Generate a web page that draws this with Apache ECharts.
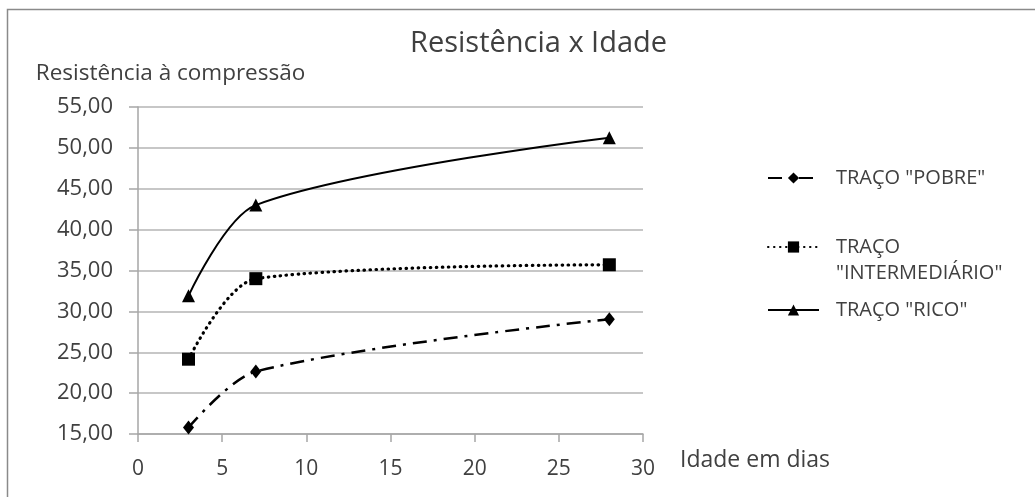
<!DOCTYPE html>
<html>
<head>
<meta charset="utf-8">
<script src="https://cdn.jsdelivr.net/npm/echarts@6/dist/echarts.min.js"></script>
<style>
html,body{margin:0;padding:0;background:#fff;}
#c{width:1035px;height:497px;}
</style>
</head>
<body>
<div id="c"></div>
<script>
const ages = [3, 7, 28];
const pobre = [15.8, 22.65, 29.05];
const intermediario = [24.15, 34.0, 35.7];
const rico = [31.9, 43.0, 51.25];
const seriesNames = ['TRAÇO "POBRE"', 'TRAÇO "INTERMEDIÁRIO"', 'TRAÇO "RICO"'];
const legendLabels = ['TRAÇO "POBRE"', ' \nTRAÇO\n"INTERMEDIÁRIO"', 'TRAÇO "RICO"'];
const titleText = 'Resistência x Idade';
const yName = 'Resistência à compressão';
const xName = 'Idade em dias';

const FONT = '"Open Sans", sans-serif';
const TXT = '#404040';

function pts(vals){ return ages.map((a,i)=>[a, vals[i]]); }

const chart = echarts.init(document.getElementById('c'));
function legendFor(i, top){
  return {
    orient: 'vertical',
    left: 762,
    top: top,
    itemWidth: 51,
    itemHeight: 14,
    selectedMode: false,
    textStyle: {fontFamily: FONT, fontSize: 20, color: TXT, padding: [0,0,0,12], lineHeight: 26},
    formatter: function(n){ return legendLabels[seriesNames.indexOf(n)]; },
    data: [seriesNames[i]]
  };
}
chart.setOption({
  backgroundColor: '#fff',
  animation: false,
  graphic: [{
    type: 'rect', silent: true, z: -10,
    shape: {x: 7.5, y: 9.5, width: 1100, height: 600},
    style: {fill: '#fff', stroke: '#8a8a8a', lineWidth: 1.5}
  }],
  title: {
    text: titleText, left: 405, top: 24,
    textStyle: {fontFamily: FONT, fontSize: 29, fontWeight: 'normal', color: TXT}
  },
  legend: [
    legendFor(0, 160),
    legendFor(1, 203),
    legendFor(2, 292)
  ],
  grid: {left: 138, right: 392, top: 107, bottom: 63, containLabel: false},
  xAxis: {
    type: 'value', min: 0, max: 30, interval: 5,
    name: xName, nameLocation: 'end', nameGap: 37, nameMoveOverlap: false,
    nameTextStyle: {fontFamily: FONT, fontSize: 23, color: TXT, verticalAlign: 'top', lineHeight: 52},
    axisLine: {show: true, lineStyle: {color: '#a6a6a6', width: 1.5}},
    axisTick: {show: true, length: 8, lineStyle: {color: '#a6a6a6', width: 1.5}},
    axisLabel: {fontFamily: FONT, fontSize: 21, color: TXT, margin: 25},
    splitLine: {show: false}
  },
  yAxis: {
    type: 'value', min: 15, max: 55, interval: 5,
    name: yName, nameLocation: 'end', nameGap: 22,
    nameTextStyle: {fontFamily: FONT, fontSize: 22.5, color: TXT, align: 'center', padding: [0,0,0,65]},
    axisLine: {show: true, lineStyle: {color: '#a6a6a6', width: 1.5}},
    axisTick: {show: true, length: 9, lineStyle: {color: '#a6a6a6', width: 1.5}},
    axisLabel: {fontFamily: FONT, fontSize: 22, color: TXT, margin: 25,
      formatter: v => v.toFixed(2).replace('.', ',')},
    splitLine: {show: true, lineStyle: {color: '#b4b4b4', width: 1.5}}
  },
  series: [
    {
      name: seriesNames[0], type: 'line', data: pts(pobre), smooth: 0.3,
      symbol: 'diamond', symbolSize: [11, 14],
      itemStyle: {color: '#000'},
      lineStyle: {color: '#000', width: 2.5, type: [14, 7, 3, 7]}
    },
    {
      name: seriesNames[1], type: 'line', data: pts(intermediario), smooth: 0.3,
      symbol: 'rect', symbolSize: 13,
      itemStyle: {color: '#000'},
      lineStyle: {color: '#000', width: 3.2, type: [0.5, 5.5], cap: 'round'}
    },
    {
      name: seriesNames[2], type: 'line', data: pts(rico), smooth: 0.3,
      symbol: 'triangle', symbolSize: 13,
      itemStyle: {color: '#000'},
      lineStyle: {color: '#000', width: 2, type: 'solid'}
    }
  ]
});
</script>
</body>
</html>
